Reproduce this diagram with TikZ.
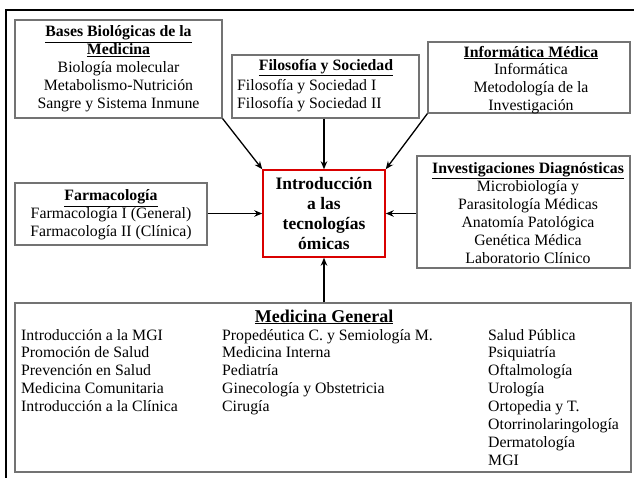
\documentclass[tikz,border=0pt]{standalone}
\usepackage{fontspec}
\setmainfont{Liberation Serif}
\usetikzlibrary{arrows.meta}
\begin{document}
\begin{tikzpicture}[x=1pt,y=-1pt,
  box/.style={draw=black!55, line width=1.2pt, inner sep=0pt, fill=white},
  txt/.style={font=\fontsize{15.8}{17.9}\selectfont, inner sep=0pt, align=center},
  ltxt/.style={font=\fontsize{15.8}{17.9}\selectfont, inner sep=0pt, align=left},
  ctr/.style={draw=red!85!black, line width=1.5pt, inner sep=0pt, fill=white},
  arr/.style={line width=1.3pt, -{Stealth[length=8pt,width=6.5pt]}}]
\useasboundingbox (0,0) rectangle (634,478);
\fill[white] (0,0) rectangle (634,478);
\draw[line width=2pt] (6,478) -- (6,10) -- (634,10);
% boxes
\node[box, minimum width=207pt, minimum height=98pt] (bases) at (118.5,69) {};
\node[box, minimum width=187pt, minimum height=63pt] (filo) at (325.5,86.5) {};
\node[box, minimum width=202pt, minimum height=71pt] (info) at (529,77.5) {};
\node[box, minimum width=192pt, minimum height=62pt] (farm) at (111,214) {};
\node[box, minimum width=213pt, minimum height=112pt] (inv) at (523.5,212) {};
\node[box, minimum width=616pt, minimum height=169pt] (mg) at (323,387.5) {};
\node[ctr, minimum width=122pt, minimum height=87pt] (cen) at (324,213.5) {};
% texts
\node[txt] (basesT) at (118.5,69) {\underline{\textbf{Bases Biológicas de la}}\\ \underline{\textbf{Medicina}}\\ Biología molecular\\ Metabolismo-Nutrición\\ Sangre y Sistema Inmune};
\node[txt] (filoH) at (326,68) {\underline{\textbf{Filosofía y Sociedad}}};
\node[ltxt, anchor=west] (filoT) at (237,96) {Filosofía y Sociedad I\\ Filosofía y Sociedad II};
\node[txt] (infoT) at (531,80) {\underline{\textbf{Informática Médica}}\\ Informática\\ Metodología de la\\ Investigación};
\node[txt] (farmT) at (111,215) {\underline{\textbf{Farmacología}}\\ Farmacología I (General)\\ Farmacología II (Clínica)};
\node[txt] (invT) at (528,213) {\underline{\textbf{Investigaciones Diagnósticas}}\\ Microbiología y\\ Parasitología Médicas\\ Anatomía Patológica\\ Genética Médica\\ Laboratorio Clínico};
\node[txt, font=\fontsize{17.5}{20}\selectfont\bfseries] (cenT) at (324,213.5) {Introducción\\ a las\\ tecnologías\\ ómicas};
\node[txt, anchor=base, font=\fontsize{18}{20}\selectfont] (mgH) at (324,322) {\underline{\textbf{Medicina General}}};
\node[ltxt, anchor=base west] (mg1) at (21,411.6) {Introducción a la MGI\\ Promoción de Salud\\ Prevención en Salud\\ Medicina Comunitaria\\ Introducción a la Clínica};
\node[ltxt, anchor=base west] (mg2) at (222,411.6) {Propedéutica C. y Semiología M.\\ Medicina Interna\\ Pediatría\\ Ginecología y Obstetricia\\ Cirugía};
\node[ltxt, anchor=base west] (mg3) at (488,465.3) {Salud Pública\\ Psiquiatría\\ Oftalmología\\ Urología\\ Ortopedia y T.\\ Otorrinolaringología\\ Dermatología\\ MGI};
% arrows
\draw[arr] (bases.south east) -- (cen.north west);
\draw[arr] (filo.south -| cen.north) -- (cen.north);
\draw[arr] (info.south west) -- (cen.north east);
\draw[arr] (farm.east |- cen.west) -- (cen.west);
\draw[arr] (inv.west |- cen.east) -- (cen.east);
\draw[arr] (mg.north -| cen.south) -- (cen.south);
\end{tikzpicture}
\end{document}
